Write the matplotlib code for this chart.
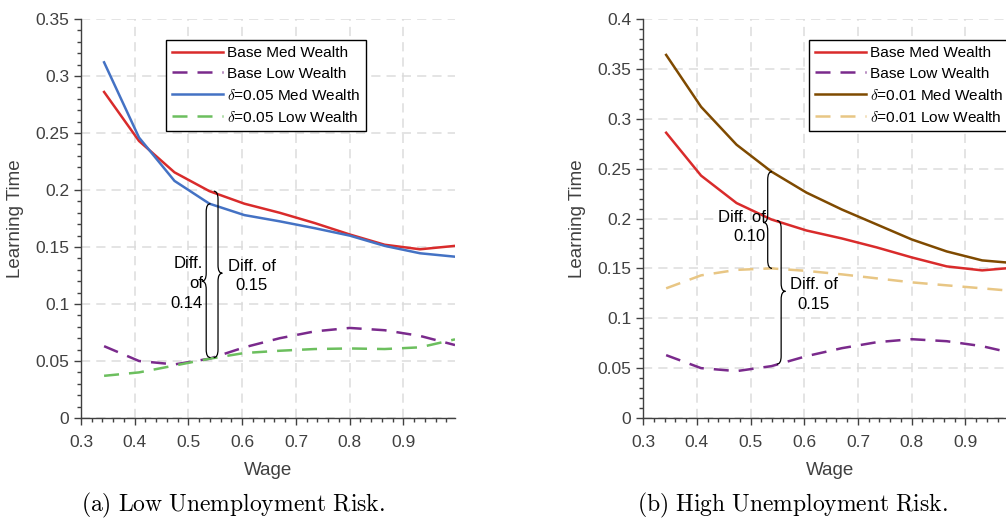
import numpy as np
import matplotlib
matplotlib.use("Agg")
import matplotlib.pyplot as plt
from matplotlib.path import Path
from matplotlib.patches import PathPatch
from matplotlib.ticker import MultipleLocator

plt.rcParams['font.family'] = ['Liberation Sans', 'DejaVu Sans']
plt.rcParams['mathtext.fontset'] = 'cm'

# wage grid
wage = [0.343, 0.408, 0.474, 0.539, 0.604, 0.670, 0.735, 0.800, 0.865, 0.931, 0.996]

# baseline learning times
base_med = [0.286, 0.243, 0.2155, 0.199, 0.188, 0.180, 0.171, 0.161, 0.152, 0.148, 0.151]
base_low = [0.063, 0.050, 0.047, 0.052, 0.062, 0.070, 0.076, 0.079, 0.077, 0.072, 0.064]

# low unemployment risk, delta = 0.05
d05_med = [0.312, 0.246, 0.208, 0.188, 0.178, 0.1725, 0.1665, 0.160, 0.151, 0.1445, 0.1415]
d05_low = [0.037, 0.040, 0.046, 0.052, 0.057, 0.059, 0.0605, 0.061, 0.0605, 0.062, 0.069]

# high unemployment risk, delta = 0.01
d01_med = [0.364, 0.312, 0.274, 0.247, 0.226, 0.209, 0.194, 0.179, 0.167, 0.158, 0.155]
d01_low = [0.130, 0.143, 0.1485, 0.150, 0.1475, 0.144, 0.140, 0.136, 0.133, 0.130, 0.127]

# braces: (x, top, bottom, tip y, facing)
braces_a = [(0.533, 0.188, 0.053, 0.120, 'left'), (0.555, 0.199, 0.053, 0.127, 'right')]
braces_b = [(0.532, 0.247, 0.150, 0.196, 'left'), (0.557, 0.198, 0.054, 0.127, 'right')]

RED = '#d92b2b'
PURPLE = '#7a2a8c'
BLUE = '#4472c4'
GREEN = '#6cbf5e'
BROWN = '#7f4a00'
BEIGE = '#e8c684'
AX = '#404040'


def brace(ax, x0, top, bot, mid, facing, w=0.008, h=None):
    if h is None:
        h = 0.007 * (ax.get_ylim()[1] / 0.35)
    s = 1 if facing == 'left' else -1
    verts = [(x0 + s * w, top), (x0, top), (x0, top - h),
             (x0, mid + h),
             (x0, mid), (x0 - s * w, mid),
             (x0, mid), (x0, mid - h),
             (x0, bot + h),
             (x0, bot), (x0 + s * w, bot)]
    codes = [Path.MOVETO, Path.CURVE3, Path.CURVE3,
             Path.LINETO,
             Path.CURVE3, Path.CURVE3,
             Path.CURVE3, Path.CURVE3,
             Path.LINETO,
             Path.CURVE3, Path.CURVE3]
    ax.add_patch(PathPatch(Path(verts, codes), fc='none', ec='black', lw=0.9, zorder=5))


def style(ax, ymax):
    ax.set_xlim(0.3, 0.996)
    ax.set_ylim(0, ymax)
    ax.xaxis.set_major_locator(MultipleLocator(0.1))
    ax.xaxis.set_minor_locator(MultipleLocator(0.02))
    ax.yaxis.set_major_locator(MultipleLocator(0.05))
    ax.yaxis.set_minor_locator(MultipleLocator(0.01))
    ax.xaxis.set_major_formatter(plt.FuncFormatter(lambda v, p: '%g' % round(v, 2)))
    ax.yaxis.set_major_formatter(plt.FuncFormatter(lambda v, p: '%g' % round(v, 2)))
    for sp in ['top', 'right']:
        ax.spines[sp].set_visible(False)
    for sp in ['left', 'bottom']:
        ax.spines[sp].set_color(AX)
        ax.spines[sp].set_linewidth(1.0)
    ax.tick_params(which='both', direction='out', colors=AX, labelsize=12.5, width=1.0)
    ax.tick_params(which='major', length=5)
    ax.tick_params(axis='x', which='major', pad=7)
    ax.tick_params(which='minor', length=3)
    ax.grid(True, which='major', color='#dcdcdc', linestyle=(0, (6, 4)), linewidth=1.1)
    ax.set_axisbelow(True)
    ax.set_xlabel('Wage', fontsize=13.5, color=AX, labelpad=9)
    ax.set_ylabel('Learning Time', fontsize=13.5, color=AX, labelpad=8)


def legend(ax, x):
    leg = ax.legend(loc='upper left', bbox_to_anchor=(x, 0.948), fontsize=11.1,
                    handlelength=3.3, handletextpad=0.25, borderpad=0.4,
                    labelspacing=0.45, fancybox=False, framealpha=1, borderaxespad=0)
    leg.get_frame().set_edgecolor('black')
    leg.get_frame().set_linewidth(1.0)


fig = plt.figure(figsize=(10.06, 5.21), dpi=100)
ax1 = fig.add_axes([0.0805, 0.1977, 0.3718, 0.7658])
ax2 = fig.add_axes([0.6392, 0.1977, 0.3718, 0.7658])

dash = (0, (6, 4))
lw = 1.8

# (a) low unemployment risk
style(ax1, 0.35)
ax1.plot(wage, base_med, color=RED, lw=lw, label='Base Med Wealth')
ax1.plot(wage, base_low, color=PURPLE, lw=lw, ls=dash, label='Base Low Wealth')
ax1.plot(wage, d05_med, color=BLUE, lw=lw, label=r'$\delta$=0.05 Med Wealth')
ax1.plot(wage, d05_low, color=GREEN, lw=lw, ls=dash, label=r'$\delta$=0.05 Low Wealth')
for b in braces_a:
    brace(ax1, *b)
ax1.text(0.527, 0.118, 'Diff.\nof\n0.14', ha='right', va='center', fontsize=12,
         linespacing=1.4)
ax1.text(0.618, 0.1245, 'Diff. of\n0.15', ha='center', va='center', fontsize=12,
         linespacing=1.4)
legend(ax1, 0.227)

# (b) high unemployment risk
style(ax2, 0.4)
ax2.plot(wage, base_med, color=RED, lw=lw, label='Base Med Wealth')
ax2.plot(wage, base_low, color=PURPLE, lw=lw, ls=dash, label='Base Low Wealth')
ax2.plot(wage, d01_med, color=BROWN, lw=lw, label=r'$\delta$=0.01 Med Wealth')
ax2.plot(wage, d01_low, color=BEIGE, lw=lw, ls=dash, label=r'$\delta$=0.01 Low Wealth')
for b in braces_b:
    brace(ax2, *b)
ax2.text(0.528, 0.1915, 'Diff. of\n0.10', ha='right', va='center', fontsize=12,
         linespacing=1.4)
ax2.text(0.618, 0.124, 'Diff. of\n0.15', ha='center', va='center', fontsize=12,
         linespacing=1.4)
legend(ax2, 0.4435)

# captions
fig.text(0.232, 0.002, r'$\mathrm{(a)\ Low\ Unemployment\ Risk.}$', ha='center',
         va='bottom', fontsize=17)
fig.text(0.788, 0.002, r'$\mathrm{(b)\ High\ Unemployment\ Risk.}$', ha='center',
         va='bottom', fontsize=17)

fig.savefig('out.png', dpi=100)
